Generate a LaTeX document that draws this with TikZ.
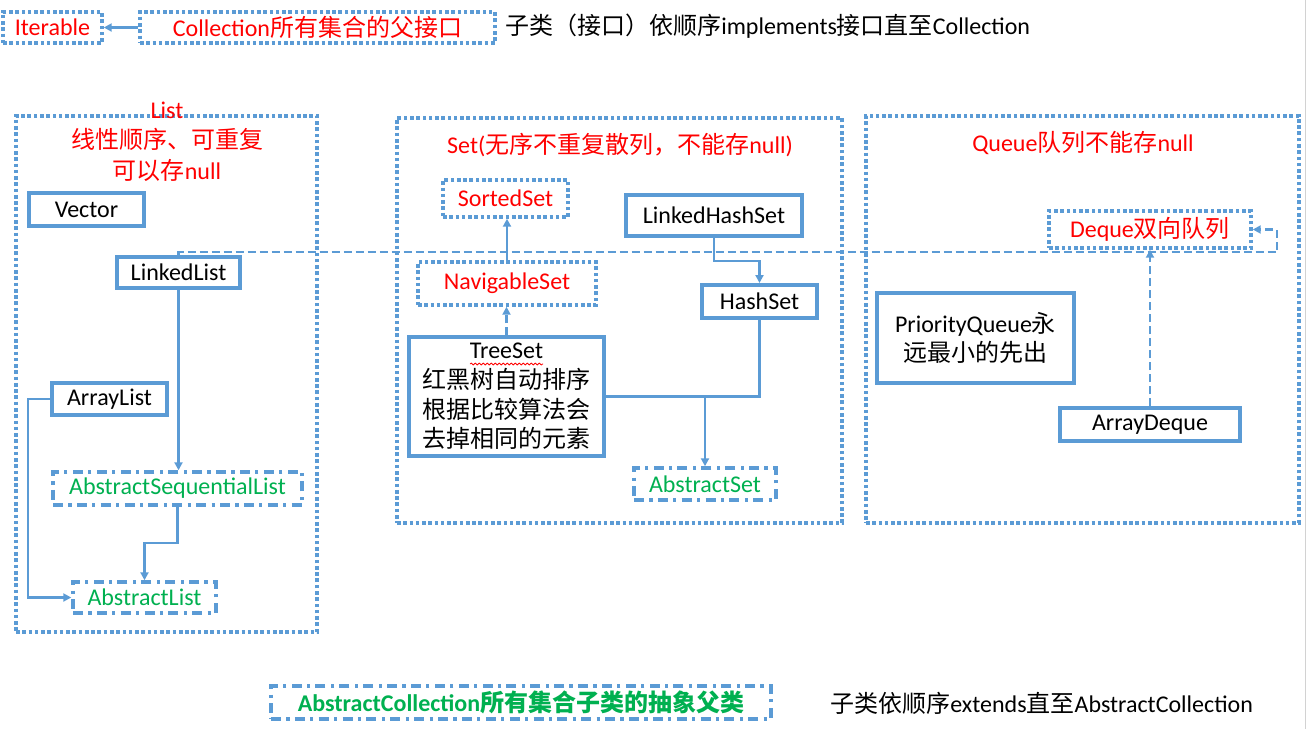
\documentclass[tikz,border=0pt]{standalone}
\usepackage{fontspec}
\setmainfont{Carlito}
\newfontfamily\cjk{Noto Sans CJK SC}
\usetikzlibrary{arrows.meta,decorations.pathmorphing}
\definecolor{obl}{HTML}{5B9BD5}
\definecolor{ored}{HTML}{FF0000}
\definecolor{ogrn}{HTML}{00B050}
\newcommand{\zh}[1]{{\cjk #1}}
\begin{document}
\begin{tikzpicture}[x=0.75pt,y=-0.75pt,
  font=\fontsize{18pt}{22pt}\selectfont,
  solidbox/.style={draw=obl, line width=3pt, fill=white, inner sep=0pt, text=black, align=center},
  dotbox/.style={draw=obl, line width=2.6pt, dash pattern=on 2.7pt off 2pt, inner sep=0pt, text=ored},
  abox/.style={draw=obl, line width=2.6pt, dash pattern=on 7.5pt off 4pt on 2.4pt off 4pt, inner sep=0pt, text=ogrn},
  group/.style={draw=obl, line width=2.6pt, dash pattern=on 2.7pt off 2pt, inner sep=0pt},
  conn/.style={draw=obl, line width=1.9pt},
  arr/.style={-{Triangle[length=6pt,width=6pt]}},
  dconn/.style={conn, dash pattern=on 6pt off 3pt},
  title/.style={text=ored, align=center, inner sep=0pt},
  note/.style={text=black, inner sep=0pt, anchor=west}]
\useasboundingbox (0,0) rectangle (1311,729);
\draw[gray!35, line width=0.75pt] (1305,0) -- (1305,729);

% top legend
\node[dotbox, minimum width=74.25pt, minimum height=23.25pt] (iter) at (52.5,27.5) {Iterable};
\node[dotbox, minimum width=266.25pt, minimum height=23.25pt] (coll) at (317.5,27.5) {Collection\zh{所有集合的父接口}};
\node[note] (toptext) at (505,26) {\zh{子类（接口）依顺序}implements\zh{接口直至}Collection};

% containers
\node[group, minimum width=225.75pt, minimum height=387pt] (listg) at (166.5,374) {};
\node[group, minimum width=333.75pt, minimum height=303.75pt] (setg) at (619.5,320.5) {};
\node[group, minimum width=324.75pt, minimum height=305.25pt] (queueg) at (1082.5,319.5) {};

\node[title] (listt0) at (167,110) {List};
\node[title, font=\fontsize{18pt}{23pt}\selectfont] (listt) at (167,155) {\zh{线性顺序、可重复}\\\zh{可以存}null};
\node[title] (sett) at (620,145) {Set(\zh{无序不重复散列，不能存}null)};
\node[title] (queuet) at (1083,143) {Queue\zh{队列不能存}null};

% List nodes
\node[solidbox, minimum width=86.25pt, minimum height=24.75pt] (vec) at (86.5,209.5) {Vector};
\node[solidbox, minimum width=92.25pt, minimum height=23.25pt] (ll) at (178.5,272.5) {LinkedList};
\node[solidbox, minimum width=86.25pt, minimum height=24pt] (al) at (109.5,399) {ArrayList};
\node[abox, minimum width=186.75pt, minimum height=24.75pt] (asl) at (177.5,488.5) {AbstractSequentialList};
\node[abox, minimum width=107.25pt, minimum height=23.25pt] (abl) at (144.5,597.5) {AbstractList};

% Set nodes
\node[dotbox, minimum width=93.75pt, minimum height=27.75pt] (ss) at (505.5,198.5) {SortedSet};
\node[dotbox, minimum width=133.5pt, minimum height=32.25pt] (ns) at (507,283.5) {NavigableSet};
\node[solidbox, minimum width=146.25pt, minimum height=89.25pt, font=\fontsize{18pt}{22.2pt}\selectfont] (ts) at (506.5,396.5) {TreeSet\\\zh{红黑树自动排序}\\\zh{根据比较算法会}\\\zh{去掉相同的元素}};
\node[solidbox, minimum width=132pt, minimum height=30.75pt] (lhs) at (714,215.5) {LinkedHashSet};
\node[solidbox, minimum width=86.25pt, minimum height=24.75pt] (hs) at (759.5,301.5) {HashSet};
\node[abox, minimum width=106.5pt, minimum height=24pt] (as) at (705,484) {AbstractSet};

% Queue nodes
\node[dotbox, minimum width=151.5pt, minimum height=27.75pt] (dq) at (1150,229.5) {Deque\zh{双向队列}};
\node[solidbox, minimum width=147.75pt, minimum height=67.5pt] (pq) at (975.5,338) {PriorityQueue\zh{永}\\\zh{远最小的先出}};
\node[solidbox, minimum width=135pt, minimum height=24.75pt] (ad) at (1150,424.5) {ArrayDeque};

% bottom
\node[abox, minimum width=375pt, minimum height=24.75pt, font=\fontsize{18pt}{22pt}\selectfont\bfseries] (ac) at (521,702.5) {AbstractCollection\zh{\bfseries 所有集合子类的抽象父类}};
\node[note] (bottext) at (830,703) {\zh{子类依顺序}extends\zh{直至}AbstractCollection};

% helper coordinates
\coordinate (k1) at (0,543);
\coordinate (k2) at (28,0);
\coordinate (k3) at (0,261);
\coordinate (k5) at (1277,252);

% connectors
\draw[conn, arr] (coll.west) -- (iter.east);
\draw[conn, arr] (ll.south) -- (ll.south |- asl.north);
\draw[conn, arr] (asl.south) -- (asl.south |- k1) -| (abl.north);
\draw[conn, arr] (al.west) -- (al.west -| k2) |- (abl.west);
\draw[conn, arr] (ns.north) -- (ns.north |- ss.south);
\draw[dconn, arr] (ts.north) -- (ts.north |- ns.south);
\draw[conn, arr] (lhs.south) -- (lhs.south |- k3) -| (hs.north);
\draw[conn] (hs.south) |- (as.north |- ts.east);
\draw[conn, arr] (ts.east) -| (as.north);
\draw[dconn, arr] (ll.north) |- (k5) |- (dq.east);
\draw[dconn, arr] (ad.north) -- (ad.north |- dq.south);

% spell-check underline
\draw[ored, line width=0.6pt, decorate, decoration={snake, amplitude=0.7pt, segment length=3pt}] (470,364) -- (543,364);
\end{tikzpicture}
\end{document}
